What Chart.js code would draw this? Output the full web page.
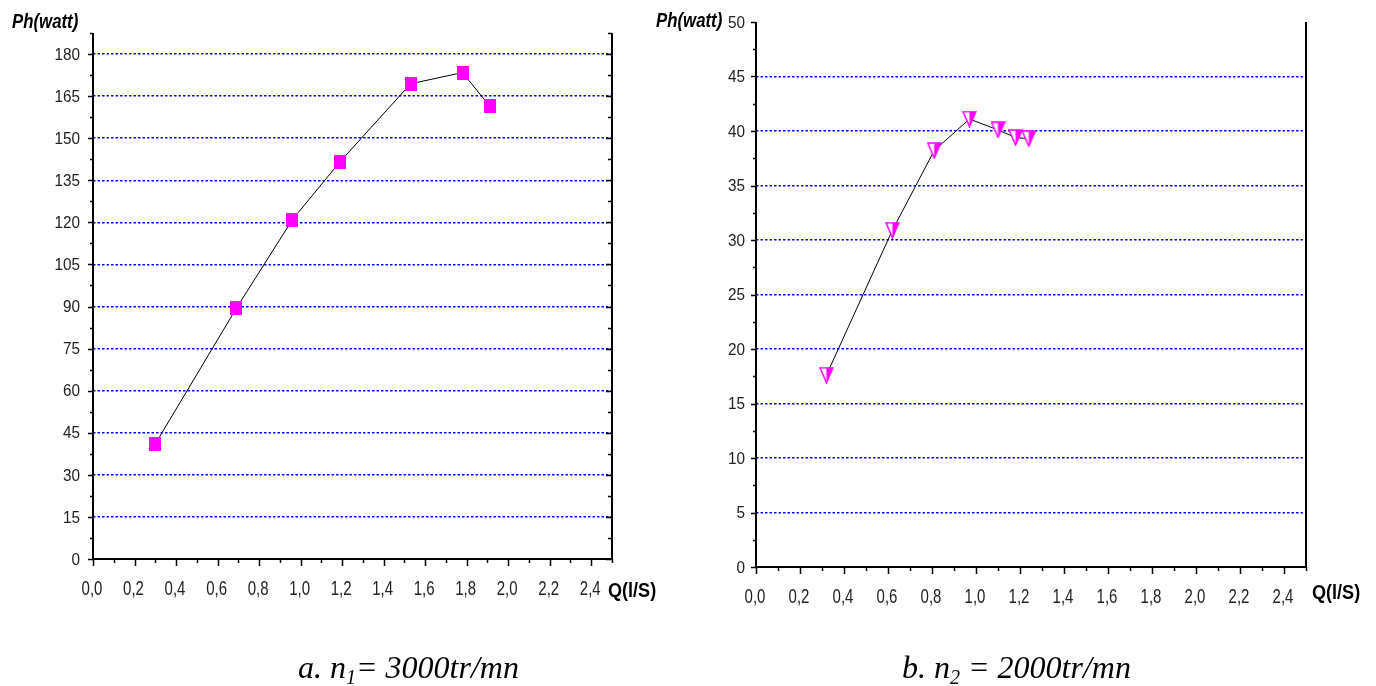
<!DOCTYPE html>
<html>
<head>
<meta charset="utf-8">
<script src="https://cdn.jsdelivr.net/npm/chart.js@4.4.1/dist/chart.umd.min.js"></script>
<style>
  body { margin: 0; background: #fff; width: 1376px; height: 686px; overflow: hidden; position: relative; }
  canvas { position: absolute; top: 0; }
  .ttl { position: absolute; font-family: 'Liberation Sans', Arial, sans-serif; font-weight: bold; color: #000; font-size: 21px; line-height: 21px; white-space: nowrap; transform-origin: 0 0; }
  .cap { position: absolute; font-family: 'Liberation Serif', 'Times New Roman', serif; font-style: italic; font-size: 32px; line-height: 32px; color: #000; white-space: nowrap; }
  .cap sub { font-size: 20px; vertical-align: -6px; line-height: 0; }
</style>
</head>
<body>
<canvas id="chart-a" width="680" height="686" style="left:0"></canvas>
<canvas id="chart-b" width="696" height="686" style="left:680px"></canvas>

<div class="ttl" style="left:12px;top:10px;font-style:italic;transform:scaleX(0.8)">Ph(watt)</div>
<div class="ttl" style="left:608px;top:579px;transform:scaleX(0.86)">Q(l/S)</div>
<div class="ttl" style="left:656px;top:9px;font-style:italic;transform:scaleX(0.8)">Ph(watt)</div>
<div class="ttl" style="left:1312px;top:581px;transform:scaleX(0.86)">Q(l/S)</div>

<div class="cap" style="left:298px;top:651px">a. n<sub>1</sub>= 3000tr/mn</div>
<div class="cap" style="left:902px;top:651px">b. n<sub>2</sub> = 2000tr/mn</div>

<script>
// Q (l/s) et Ph (watt)
const qA = [0.30, 0.69, 0.96, 1.19, 1.53, 1.78, 1.91];
const phA = [41.0, 89.3, 120.9, 141.6, 169.4, 173.4, 161.5];

const qB = [0.32, 0.62, 0.81, 0.97, 1.10, 1.18, 1.24];
const phB = [17.6, 30.9, 38.2, 41.1, 40.1, 39.4, 39.3];

// graduations
const xTicks = [0, 0.2, 0.4, 0.6, 0.8, 1.0, 1.2, 1.4, 1.6, 1.8, 2.0, 2.2, 2.4];
const yTicksA = [0, 15, 30, 45, 60, 75, 90, 105, 120, 135, 150, 165, 180];
const yTicksB = [0, 5, 10, 15, 20, 25, 30, 35, 40, 45, 50];

const fuente = "'Liberation Sans', Arial, sans-serif";

// marcadores
function marcaCuadrado() {
    const c = document.createElement("canvas");
    c.width = 12; c.height = 14;
    const g = c.getContext("2d");
    g.fillStyle = "#ff00ff";
    g.fillRect(0, 0, 12, 14);
    return c;
}
function marcaTriangulo() {
    const c = document.createElement("canvas");
    c.width = 15; c.height = 17;
    const g = c.getContext("2d");
    g.fillStyle = "#fff";
    g.beginPath(); g.moveTo(1, 1); g.lineTo(14, 1); g.lineTo(7.5, 16); g.closePath(); g.fill();
    g.fillStyle = "#ff00ff";
    g.beginPath(); g.moveTo(7.5, 1); g.lineTo(14, 1); g.lineTo(7.5, 16); g.closePath(); g.fill();
    g.strokeStyle = "#ff00ff"; g.lineWidth = 1.5;
    g.beginPath(); g.moveTo(1, 1); g.lineTo(14, 1); g.lineTo(7.5, 16); g.closePath(); g.stroke();
    return c;
}

// texto estrecho (tipo Arial Narrow)
function textoEstrecho(ctx, t, x, y, sx, align) {
    ctx.save();
    ctx.translate(x, y);
    ctx.scale(sx, 1);
    ctx.textAlign = align;
    ctx.fillText(t, 0, 0);
    ctx.restore();
}

// ejes, marco, marcas menores y etiquetas
const marco = {
    id: "marco",
    afterDatasetsDraw(chart, args, opts) {
        const { ctx, chartArea: a } = chart;
        const xs = chart.scales.x, ys = chart.scales.y;
        ctx.save();
        ctx.strokeStyle = "#000";
        ctx.lineWidth = 1.5;
        ctx.beginPath();
        const nY = Math.round((ys.max - ys.min) / opts.yStep);
        for (let i = 0; i <= nY; i++) {
            const v = ys.min + i * opts.yStep;
            const py = Math.round(ys.getPixelForValue(v)) + 0.5;
            const mayor = i % 2 === 0;
            ctx.moveTo(a.left, py); ctx.lineTo(a.left - (mayor ? 5 : 3), py);
            if (opts.rightTicks) { ctx.moveTo(a.right, py); ctx.lineTo(a.right - (mayor ? 6 : 4), py); }
        }
        const nX = Math.round((xs.max - xs.min) / 0.1);
        for (let i = 0; i <= nX; i++) {
            const px = Math.round(xs.getPixelForValue(i * 0.1)) + 0.5;
            ctx.moveTo(px, a.bottom); ctx.lineTo(px, a.bottom + (i % 2 === 0 ? 7 : 4));
        }
        ctx.stroke();
        ctx.lineWidth = 2;
        ctx.beginPath();
        ctx.moveTo(a.left, a.top); ctx.lineTo(a.left, a.bottom);
        ctx.lineTo(a.right, a.bottom); ctx.lineTo(a.right, a.top);
        ctx.stroke();

        // etiquetas
        ctx.fillStyle = "#222";
        ctx.textBaseline = "middle";
        ctx.font = "17px " + fuente;
        opts.yTicks.forEach(v => {
            textoEstrecho(ctx, String(v), a.left - opts.yPad, ys.getPixelForValue(v) + 1, 0.9, "right");
        });
        ctx.font = "20px " + fuente;
        xTicks.forEach(v => {
            textoEstrecho(ctx, v.toFixed(1).replace(".", ","), xs.getPixelForValue(v) - 1, a.bottom + 30, 0.75, "center");
        });
        ctx.restore();
    }
};

function crear(id, q, ph, marca, yTicks, yMax, yStep, yPad, layout, rightTicks) {
    const ctx = document.getElementById(id).getContext("2d");
    return new Chart(ctx, {
        type: "scatter",
        data: {
            datasets: [{
                data: q.map((v, i) => ({ x: v, y: ph[i] })),
                showLine: true,
                borderColor: "#000",
                borderWidth: 1,
                tension: 0,
                pointStyle: marca,
                pointRadius: 7,
                pointHoverRadius: 7
            }]
        },
        options: {
            responsive: false,
            animation: false,
            layout: { padding: layout.padding },
            plugins: { legend: { display: false }, tooltip: { enabled: false }, marco: { yStep, rightTicks, yTicks, yPad } },
            scales: {
                x: {
                    type: "linear", min: 0, max: 2.5,
                    afterBuildTicks: s => { s.ticks = xTicks.map(v => ({ value: v })); },
                    afterFit: s => { s.height = layout.xH; },
                    grid: { display: false, drawTicks: false },
                    border: { display: false },
                    ticks: { display: false }
                },
                y: {
                    type: "linear", min: 0, max: yMax,
                    afterBuildTicks: s => { s.ticks = yTicks.map(v => ({ value: v })); },
                    afterFit: s => { s.width = layout.yW; },
                    grid: {
                        drawTicks: false, lineWidth: 1.5,
                        color: c => (c.tick && c.tick.value > 0 && c.tick.value < yMax - 0.001) ? "#0000ff" : "rgba(0,0,0,0)"
                    },
                    border: { display: false, dash: [2.5, 2] },
                    ticks: { display: false }
                }
            }
        },
        plugins: [marco]
    });
}

crear("chart-a", qA, phA, marcaCuadrado(), yTicksA, 187.5, 7.5, 13,
    { padding: { left: 0, right: 68, top: 33, bottom: 0 }, yW: 93, xH: 127 }, true);
crear("chart-b", qB, phB, marcaTriangulo(), yTicksB, 50, 2.5, 11,
    { padding: { left: 0, right: 70, top: 22, bottom: 0 }, yW: 76, xH: 119 }, false);
</script>
</body>
</html>
